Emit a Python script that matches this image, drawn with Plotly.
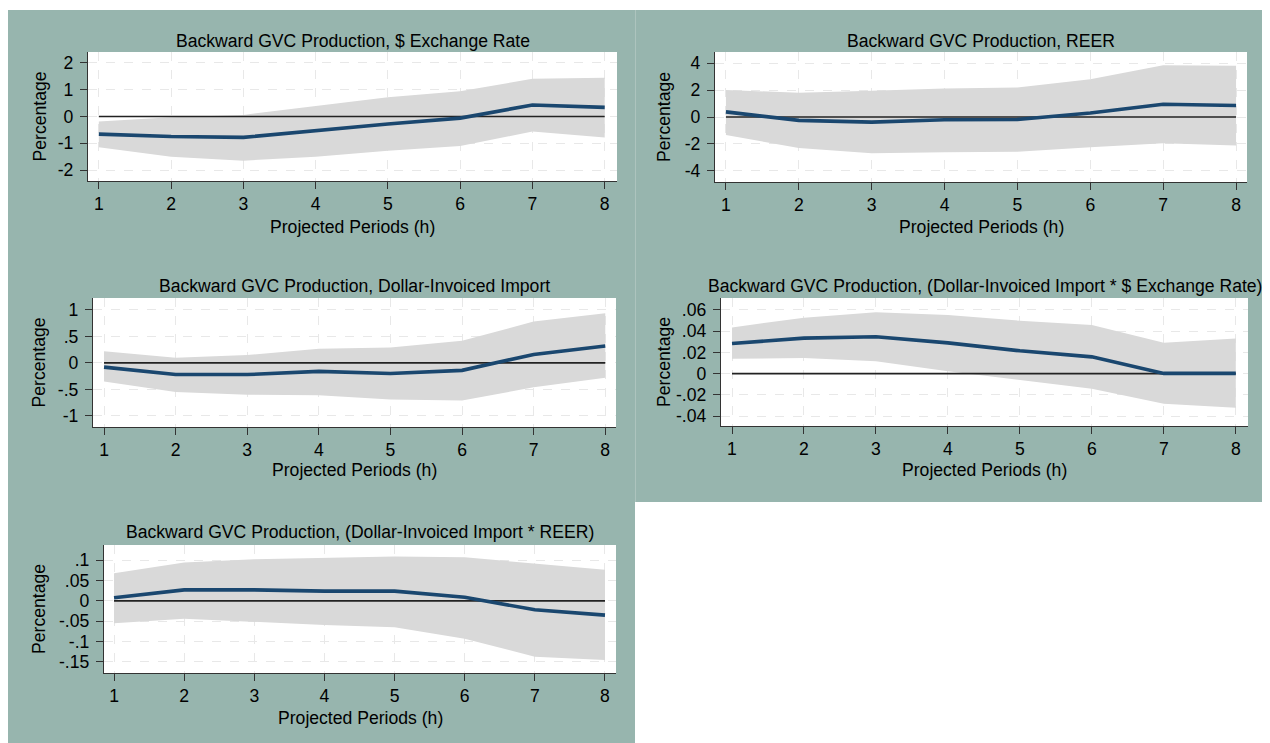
import plotly.graph_objects as go

# ---------------- data ----------------
H = [1, 2, 3, 4, 5, 6, 7, 8]

titles = [
    "Backward GVC Production, $ Exchange Rate",
    "Backward GVC Production, REER",
    "Backward GVC Production, Dollar-Invoiced Import",
    "Backward GVC Production, (Dollar-Invoiced Import * $ Exchange Rate)",
    "Backward GVC Production, (Dollar-Invoiced Import * REER)",
]

p1_irf = [-0.66, -0.75, -0.78, -0.52, -0.28, -0.06, 0.43, 0.34]
p1_hi = [-0.19, -0.03, 0.06, 0.40, 0.72, 0.94, 1.41, 1.45]
p1_lo = [-1.15, -1.50, -1.65, -1.50, -1.28, -1.10, -0.56, -0.78]

p2_irf = [0.38, -0.25, -0.38, -0.20, -0.18, 0.30, 0.95, 0.85]
p2_hi = [2.00, 1.80, 1.95, 2.12, 2.18, 2.80, 3.83, 3.80]
p2_lo = [-1.33, -2.30, -2.68, -2.62, -2.58, -2.25, -1.95, -2.12]

p3_irf = [-0.08, -0.22, -0.22, -0.16, -0.20, -0.14, 0.16, 0.32]
p3_hi = [0.22, 0.10, 0.15, 0.27, 0.29, 0.42, 0.78, 0.94]
p3_lo = [-0.35, -0.55, -0.60, -0.61, -0.69, -0.71, -0.46, -0.28]

p4_irf = [0.0284, 0.0335, 0.0347, 0.0290, 0.0215, 0.0158, 0.0002, 0.0002]
p4_hi = [0.0436, 0.0527, 0.0578, 0.0553, 0.0499, 0.0458, 0.0290, 0.0332]
p4_lo = [0.0139, 0.0148, 0.0117, 0.0022, -0.0063, -0.0142, -0.0284, -0.0322]

p5_irf = [0.0074, 0.0270, 0.0270, 0.0238, 0.0238, 0.0090, -0.0220, -0.0350]
p5_hi = [0.068, 0.094, 0.102, 0.105, 0.109, 0.107, 0.091, 0.076]
p5_lo = [-0.055, -0.044, -0.051, -0.059, -0.065, -0.093, -0.137, -0.145]

yt1_vals = [-2, -1, 0, 1, 2]
yt1_text = ["-2", "-1", "0", "1", "2"]
yt2_vals = [-4, -2, 0, 2, 4]
yt2_text = ["-4", "-2", "0", "2", "4"]
yt3_vals = [-1, -0.5, 0, 0.5, 1]
yt3_text = ["-1", "-.5", "0", ".5", "1"]
yt4_vals = [-0.04, -0.02, 0, 0.02, 0.04, 0.06]
yt4_text = ["-.04", "-.02", "0", ".02", ".04", ".06"]
yt5_vals = [-0.15, -0.1, -0.05, 0, 0.05, 0.1]
yt5_text = ["-.15", "-.1", "-.05", "0", ".05", ".1"]

x_title = "Projected Periods (h)"
y_title = "Percentage"

series = [
    (p1_irf, p1_hi, p1_lo, yt1_vals, yt1_text),
    (p2_irf, p2_hi, p2_lo, yt2_vals, yt2_text),
    (p3_irf, p3_hi, p3_lo, yt3_vals, yt3_text),
    (p4_irf, p4_hi, p4_lo, yt4_vals, yt4_text),
    (p5_irf, p5_hi, p5_lo, yt5_vals, yt5_text),
]

# ---------------- layout (page-pixel geometry) ----------------
OFF = 8                     # default body margin of the page
W, HT = 1262, 735           # figure size (page 1270x743 minus margin)
boxes = [
    dict(x=(88, 617), y=(52, 181), yr=(-2.41, 2.41), xr=(0.85, 8.17), title_y=41, xt_y=227, yt_x=39),
    dict(x=(715, 1247), y=(52, 182), yr=(-4.82, 4.82), xr=(0.85, 8.15), title_y=41, xt_y=227, yt_x=664),
    dict(x=(93, 616), y=(298, 427), yr=(-1.21, 1.226), xr=(0.846, 8.15), title_y=286, xt_y=470, yt_x=39),
    dict(x=(721, 1248), y=(298, 426), yr=(-0.0494, 0.0713), xr=(0.847, 8.17), title_y=286, xt_y=470, yt_x=664),
    dict(x=(104, 616), y=(545, 673), yr=(-0.177, 0.137), xr=(0.857, 8.157), title_y=532, xt_y=718, yt_x=39),
]

def px(x):
    return (x - OFF) / W

def py(y):
    return 1 - (y - OFF) / HT

FONT = "Liberation Sans, Arial, Helvetica, sans-serif"
TEAL = "#97b5ae"
BAND = "#d9d9d9"
NAVY = "#1a476f"
FS = 17.6

fig = go.Figure()
annotations = []
shapes = [
    dict(type="rect", xref="paper", yref="paper", x0=px(8), x1=px(635), y0=0, y1=py(10),
         fillcolor=TEAL, line=dict(width=0), layer="below"),
    dict(type="rect", xref="paper", yref="paper", x0=px(635), x1=px(1262), y0=py(502), y1=py(10),
         fillcolor=TEAL, line=dict(width=0), layer="below"),
    dict(type="line", xref="paper", yref="paper", x0=px(635.5), x1=px(635.5), y0=py(502), y1=py(10),
         line=dict(color="#adc4be", width=1), layer="below"),
]

for i, ((irf, hi, lo, tv, tt), b) in enumerate(zip(series, boxes)):
    n = "" if i == 0 else str(i + 1)
    xa, ya = "x" + n, "y" + n
    shapes.append(dict(type="rect", xref="paper", yref="paper",
                       x0=px(b["x"][0]), x1=px(b["x"][1]), y0=py(b["y"][1]), y1=py(b["y"][0]),
                       fillcolor="#ffffff", line=dict(width=0), layer="below"))
    fig.add_trace(go.Scatter(
        x=H + H[::-1], y=hi + lo[::-1], fill="toself", fillcolor=BAND,
        line=dict(width=0), mode="lines", hoverinfo="skip", showlegend=False,
        xaxis=xa, yaxis=ya))
    fig.add_trace(go.Scatter(
        x=[H[0], H[-1]], y=[0, 0], mode="lines",
        line=dict(color="#222222", width=1.6), showlegend=False, hoverinfo="skip",
        xaxis=xa, yaxis=ya))
    fig.add_trace(go.Scatter(
        x=H, y=irf, mode="lines", line=dict(color=NAVY, width=3.6),
        showlegend=False, xaxis=xa, yaxis=ya))

    common = dict(showline=True, linecolor="#333333", linewidth=1.3,
                  ticks="outside", ticklen=7, tickcolor="#333333", tickwidth=1.2,
                  showgrid=True, gridcolor="#e8e8e8", griddash="dash", gridwidth=1,
                  zeroline=False, tickfont=dict(family=FONT, size=FS, color="#000000"),
                  fixedrange=True)
    fig.update_layout(**{
        "xaxis" + n: dict(domain=[px(b["x"][0]), px(b["x"][1])], range=list(b["xr"]),
                          tickvals=H, ticktext=[str(h) for h in H],
                          anchor=ya, **common),
        "yaxis" + n: dict(domain=[py(b["y"][1]), py(b["y"][0])], range=list(b["yr"]),
                          tickvals=tv, ticktext=tt, anchor=xa, ticklabelstandoff=3, **common),
    })
    cx = (b["x"][0] + b["x"][1]) / 2
    cy = (b["y"][0] + b["y"][1]) / 2
    annotations.append(dict(text=titles[i], x=px(cx), y=py(b["title_y"]), xref="paper", yref="paper",
                            xanchor="center", yanchor="middle", showarrow=False,
                            font=dict(family=FONT, size=FS, color="#000000")))
    annotations.append(dict(text=x_title, x=px(cx), y=py(b["xt_y"]), xref="paper", yref="paper",
                            xanchor="center", yanchor="middle", showarrow=False,
                            font=dict(family=FONT, size=FS, color="#000000")))
    annotations.append(dict(text=y_title, x=px(b["yt_x"]), y=py(cy), xref="paper", yref="paper",
                            xanchor="center", yanchor="middle", showarrow=False, textangle=-90,
                            font=dict(family=FONT, size=FS, color="#000000")))

fig.update_layout(
    width=W, height=HT, margin=dict(l=0, r=0, t=0, b=0),
    paper_bgcolor="#ffffff", plot_bgcolor="#ffffff",
    shapes=shapes, annotations=annotations, showlegend=False,
    font=dict(family=FONT, size=FS, color="#000000"),
)

fig.write_html("out.html", config={"displayModeBar": False})
